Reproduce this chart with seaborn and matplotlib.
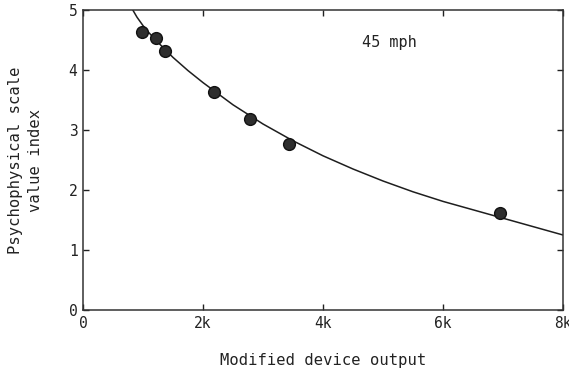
import matplotlib
matplotlib.use("Agg")
import matplotlib.pyplot as plt
import seaborn as sns
import pandas as pd

# Measured points (device output in thousands, scale value)
point_x = [0.98, 1.21, 1.36, 2.19, 2.79, 3.43, 6.95]
point_y = [4.64, 4.54, 4.31, 3.64, 3.19, 2.77, 1.62]

# Fitted curve
curve_x = [0.83, 0.9, 1.0, 1.1, 1.25, 1.5, 1.75, 2.0, 2.5, 3.0, 3.5, 4.0, 4.5, 5.0, 5.5, 6.0, 6.5, 7.0, 7.5, 8.0]
curve_y = [5.0, 4.88, 4.74, 4.62, 4.46, 4.21, 3.99, 3.79, 3.42, 3.10, 2.82, 2.57, 2.35, 2.15, 1.97, 1.81, 1.67, 1.53, 1.39, 1.25]

x_ticks = [0, 2, 4, 6, 8]
x_tick_labels = ["0", "2k", "4k", "6k", "8k"]
y_ticks = [0, 1, 2, 3, 4, 5]

sns.set_style("ticks")
plt.rcParams['font.family'] = ['DejaVu Sans Mono', 'DejaVu Sans']

fig = plt.figure(figsize=(5.69, 3.74), dpi=100)
ax = fig.add_axes([83/569, 1 - 310/374, (563-83)/569, 300/374])

curve_df = pd.DataFrame({"x": curve_x, "y": curve_y})
pts_df = pd.DataFrame({"x": point_x, "y": point_y})

sns.lineplot(data=curve_df, x="x", y="y", ax=ax, color="#1e1e1e", linewidth=1.1, sort=True)
sns.scatterplot(data=pts_df, x="x", y="y", ax=ax, s=72, color="#2e2e2e",
                edgecolor="#111111", linewidth=1.0, zorder=3)

ax.set_xlim(0, 8)
ax.set_ylim(0, 5)
ax.set_xticks(x_ticks)
ax.set_xticklabels(x_tick_labels)
ax.set_yticks(y_ticks)
ax.tick_params(direction="in", length=4, width=1, top=True, right=True,
               labelsize=10.5, colors="#222222", pad=4)
for s in ax.spines.values():
    s.set_color("#333333")
    s.set_linewidth(1.1)

ax.set_xlabel("Modified device output", fontsize=11.2, color="#222222", labelpad=16)
ax.set_ylabel("Psychophysical scale\nvalue index", fontsize=11.2, color="#222222",
              linespacing=1.45)
ax.yaxis.set_label_coords(-0.083, 0.5)
ax.text(5.1, 4.45, "45 mph", fontsize=11, color="#222222", ha="center", va="center")

fig.savefig("out.png", dpi=100)
